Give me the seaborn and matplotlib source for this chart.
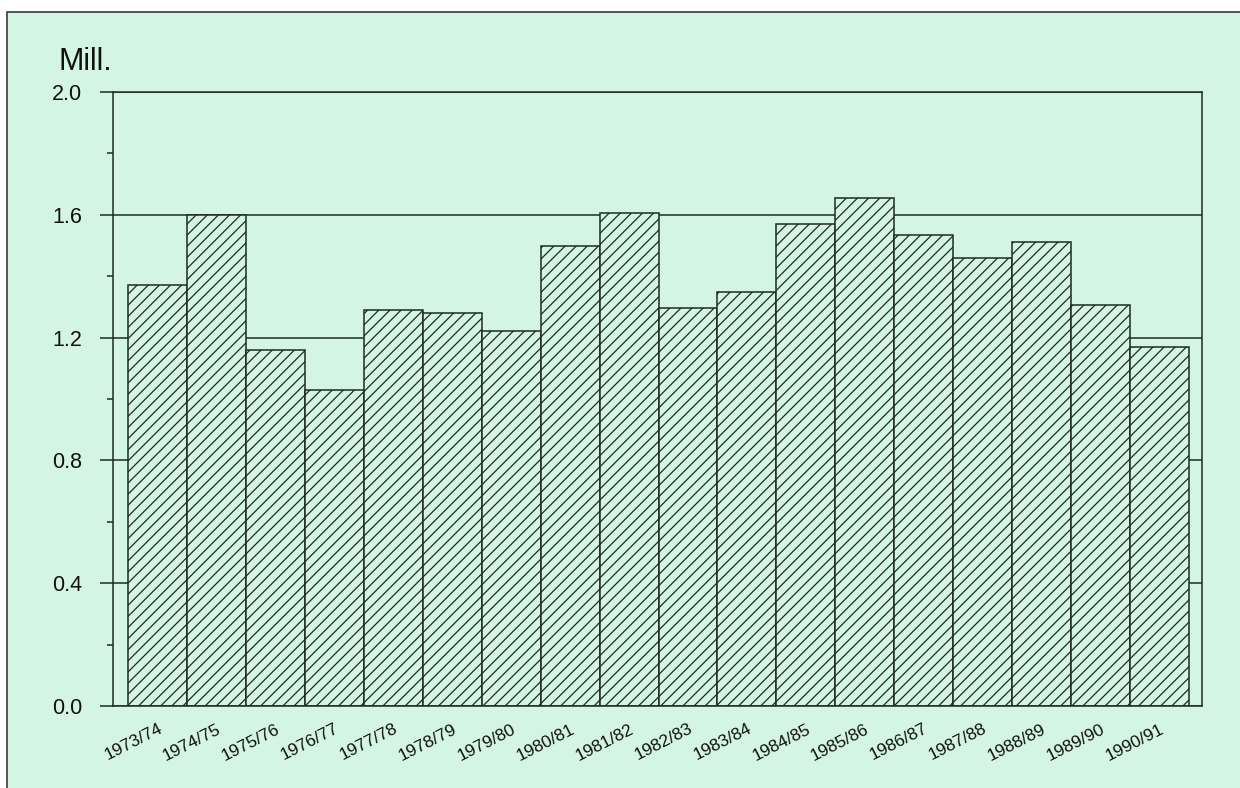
import matplotlib
matplotlib.use("Agg")
import matplotlib.pyplot as plt
from matplotlib.patches import Rectangle
from matplotlib.ticker import MultipleLocator, FormatStrFormatter
import seaborn as sns

# data (million)
seasons = ['1973/74', '1974/75', '1975/76', '1976/77', '1977/78', '1978/79',
           '1979/80', '1980/81', '1981/82', '1982/83', '1983/84', '1984/85',
           '1985/86', '1986/87', '1987/88', '1988/89', '1989/90', '1990/91']
mill = [1.37, 1.60, 1.16, 1.03, 1.29, 1.28, 1.22, 1.50, 1.605, 1.295,
        1.35, 1.57, 1.655, 1.535, 1.46, 1.51, 1.305, 1.17]

fondo = '#d5f5e3'
linea = '#1e2b22'

sns.set_theme(style='ticks')
plt.rcParams['font.family'] = ['Liberation Sans', 'DejaVu Sans']
plt.rcParams['hatch.color'] = linea
plt.rcParams['hatch.linewidth'] = 0.9

fig = plt.figure(figsize=(12.4, 7.88), dpi=100, facecolor='white')

# borde del recuadro verde (detras de los ejes)
marco = Rectangle((7 / 1240, -0.02), 1.02, 1.02 - 12.5 / 788, transform=fig.transFigure,
                  facecolor=fondo, edgecolor='#3a3a3a', linewidth=1.2, zorder=-5)
fig.patches.append(marco)

ax = fig.add_axes([0.0914, 0.1041, 0.878, 0.7791])
ax.set_facecolor(fondo)

sns.barplot(x=seasons, y=mill, width=1.0, color=fondo, saturation=1,
            edgecolor=linea, linewidth=1.1, hatch='///', ax=ax, zorder=2)

ax.set_xlim(-0.755, 17.726)
ax.set_ylim(0, 2.0)
ax.yaxis.set_major_locator(MultipleLocator(0.4))
ax.yaxis.set_minor_locator(MultipleLocator(0.2))
ax.yaxis.set_major_formatter(FormatStrFormatter('%.1f'))

ax.grid(axis='y', which='major', color=linea, linewidth=1.1, zorder=1)
ax.grid(axis='x', visible=False)
ax.set_axisbelow(True)

for lado in ['left', 'right', 'top', 'bottom']:
    ax.spines[lado].set_visible(True)
    ax.spines[lado].set_color(linea)
    ax.spines[lado].set_linewidth(1.1)

ax.tick_params(axis='y', which='major', direction='out', length=9.5, width=1.1,
               color=linea, pad=13, labelsize=15.5, labelcolor='#111111')
ax.tick_params(axis='y', which='minor', direction='out', length=4.5, width=1.1, color=linea)
ax.tick_params(axis='x', length=0, pad=11, labelsize=12.5, labelcolor='#111111')
for lab in ax.get_xticklabels():
    lab.set_rotation(27)
    lab.set_ha('right')
    lab.set_va('top')
    lab.set_rotation_mode('anchor')

ax.set_xlabel('')
ax.set_ylabel('')

fig.text(59 / 1240, 1 - 70 / 788, 'Mill.', fontsize=22, color='#111111',
         ha='left', va='baseline')

fig.savefig('out.png', dpi=100, facecolor=fig.get_facecolor())
